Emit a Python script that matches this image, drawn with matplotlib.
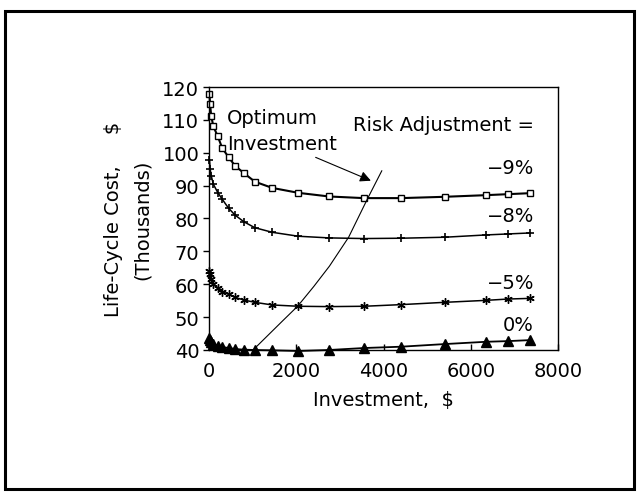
import matplotlib
matplotlib.use("Agg")
import matplotlib.pyplot as plt
from matplotlib.patches import Rectangle

# investment levels ($) shared by all curves
invest = [10, 25, 50, 100, 200, 300, 450, 600, 800, 1050, 1450, 2050,
          2750, 3550, 4400, 5400, 6350, 6850, 7350]

# life-cycle cost (thousands $) per risk adjustment
cost_m9 = [117.8, 114.7, 111.2, 108.0, 105.0, 101.5, 98.6, 96.0, 93.8, 91.2,
           89.3, 87.8, 86.7, 86.2, 86.2, 86.6, 87.1, 87.4, 87.7]
cost_m8 = [97.8, 95.2, 93.0, 90.4, 87.9, 85.9, 83.1, 81.0, 79.0, 77.2,
           75.8, 74.6, 74.1, 73.9, 74.0, 74.3, 75.0, 75.3, 75.6]
cost_m5 = [64.1, 63.1, 61.6, 60.1, 58.8, 57.7, 57.0, 56.0, 55.2, 54.5,
           53.7, 53.3, 53.2, 53.3, 53.8, 54.5, 55.1, 55.5, 55.7]
cost_0 = [43.6, 43.0, 42.5, 41.9, 41.3, 40.9, 40.6, 40.3, 40.1, 40.0,
          39.9, 39.7, 40.0, 40.6, 41.0, 41.8, 42.5, 42.7, 43.0]

# optimum investment locus
opt_x = [1040, 1690, 2030, 2400, 2760, 3200, 3640, 3960]
opt_y = [40.4, 48.9, 53.3, 59.3, 65.5, 74.3, 86.2, 94.5]

labels = ["\u22129%", "\u22128%", "\u22125%", "0%"]
label_y = [95.6, 80.8, 60.6, 47.9]

fs = 14
plt.rcParams["font.family"] = "DejaVu Sans"

fig = plt.figure(figsize=(6.4, 5.02), dpi=100)
ax = fig.add_axes([0.3266, 0.3008, 0.5453, 0.5239])

ax.plot(invest, cost_m9, color="black", lw=1.5, marker="s", ms=5,
        mfc="white", mec="black", mew=1.0, clip_on=False)
ax.plot(invest, cost_m8, color="black", lw=1.1, marker="+", ms=6,
        mew=1.2, clip_on=False)
ax.plot(invest, cost_m5, color="black", lw=1.1, marker=(6, 2, 0), ms=6,
        mew=1.0, clip_on=False)
ax.plot(invest, cost_0, color="black", lw=1.3, marker="^", ms=7.5,
        mfc="black", mec="black", clip_on=False)
ax.plot(opt_x, opt_y, color="black", lw=0.8)

for lab, yy in zip(labels, label_y):
    ax.text(7450, yy, lab, ha="right", va="center", fontsize=fs)
ax.text(7450, 108.7, "Risk Adjustment =", ha="right", va="center", fontsize=fs)

ax.text(420, 110.7, "Optimum", ha="left", va="center", fontsize=fs)
ax.text(420, 102.9, "Investment", ha="left", va="center", fontsize=fs)
ax.annotate("", xy=(3710, 91.5), xytext=(2444, 98.6),
            arrowprops=dict(arrowstyle="-|>", color="black", lw=0.8,
                            mutation_scale=16, shrinkA=0, shrinkB=0))

ax.set_xlim(0, 8000)
ax.set_ylim(40, 120)
ax.set_xticks([0, 2000, 4000, 6000, 8000])
ax.set_yticks(range(40, 121, 10))
ax.tick_params(axis="y", direction="out", length=4, width=1, labelsize=fs, pad=3)
ax.tick_params(axis="x", direction="in", length=4, width=1, labelsize=fs, pad=8)
for sp in ax.spines.values():
    sp.set_linewidth(1.0)

ax.set_xlabel("Investment,  \\$", fontsize=fs, labelpad=7)
ax.set_ylabel("Life-Cycle Cost,     \\$\n(Thousands)", fontsize=fs,
              linespacing=1.6)
ax.yaxis.set_label_coords(-0.165, 0.5)

fig.add_artist(Rectangle((5 / 640, 12 / 502), 629 / 640, 478 / 502,
                         transform=fig.transFigure, fill=False,
                         edgecolor="black", lw=2.2))

fig.savefig("out.png", dpi=100)
